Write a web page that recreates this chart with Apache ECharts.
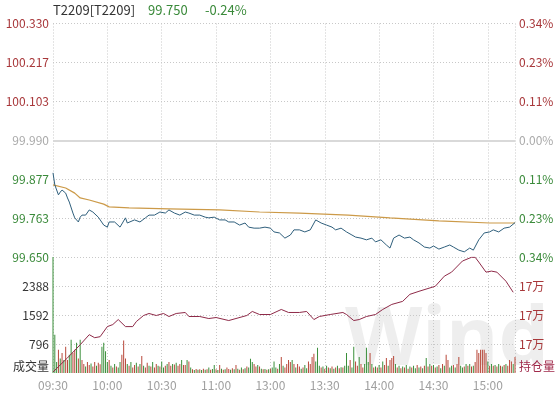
<!DOCTYPE html>
<html><head><meta charset="utf-8">
<script src="https://cdn.jsdelivr.net/npm/echarts@6/dist/echarts.min.js"></script>
<style>html,body{margin:0;padding:0;background:#fff}#c{width:559px;height:393px}</style>
</head><body><div id="c"></div>
<script>
// ---------------- data ----------------
const contractName = 'T2209[T2209]';
const lastPriceText = '99.750';
const changeText = '-0.24%';
const prevClose = 99.990;
const timeLabels = ['09:30','10:00','10:30','11:00','13:00','13:30','14:00','14:30','15:00'];
const priceTickLabels = ['99.650','99.763','99.877','99.990','100.103','100.217','100.330'];
const pctTickLabels = ['0.34%','0.23%','0.11%','0.00%','0.11%','0.23%','0.34%'];
const volTickLabels = ['成交量','796','1592','2388',''];
const oiTickLabels = ['持仓量','17万','17万','17万',''];

// price: minute index / price
const priceIdx = [0,1,3,4,5,7,8,9,11,12,14,15,16,18,20,22,25,28,30,31,34,37,40,41,45,48,51,53,56,59,62,64,67,70,73,75,78,81,84,86,89,92,95,97,100,103,106,108,111,114,117,120,122,125,128,131,133,136,139,142,145,148,151,154,156,159,162,165,167,170,173,176,178,181,184,186,188,191,194,197,199,202,205,208,210,213,216,219,221,224,227,230,232,235,238,241,243,246,249,252,255];
const priceVal = [99.895,99.860,99.831,99.839,99.845,99.836,99.822,99.810,99.778,99.764,99.752,99.766,99.772,99.772,99.787,99.781,99.766,99.743,99.737,99.752,99.752,99.737,99.764,99.749,99.758,99.752,99.764,99.772,99.772,99.781,99.778,99.787,99.778,99.772,99.781,99.778,99.772,99.772,99.766,99.764,99.766,99.758,99.758,99.752,99.752,99.743,99.749,99.737,99.734,99.734,99.737,99.734,99.723,99.720,99.705,99.714,99.729,99.729,99.723,99.729,99.758,99.749,99.743,99.737,99.729,99.734,99.723,99.714,99.708,99.705,99.700,99.705,99.694,99.700,99.685,99.676,99.705,99.714,99.705,99.708,99.700,99.691,99.679,99.676,99.682,99.673,99.679,99.685,99.679,99.670,99.665,99.676,99.670,99.700,99.720,99.723,99.729,99.723,99.734,99.737,99.750];

// average price
const avgIdx = [0,7,12,15,20,28,31,42,64,92,114,136,163,186,213,241,255];
const avgVal = [99.860,99.851,99.836,99.822,99.816,99.804,99.796,99.793,99.790,99.787,99.781,99.778,99.772,99.764,99.755,99.749,99.749];

// open interest (持仓量)
const oiIdx = [0,8,15,20,23,26,30,33,36,40,44,46,50,53,57,61,64,68,73,75,81,86,90,97,107,110,114,120,126,130,136,140,144,147,153,160,162,166,169,173,178,182,187,193,197,202,211,216,220,226,231,233,235,239,242,245,250,254];
const oiVal = [172035,172522,172974,173322,173217,173252,173600,173670,173843,173600,173600,173774,173983,174052,173983,174052,173948,174052,174087,173948,173948,173878,173913,173809,173983,174122,174017,174017,174191,174087,174087,174122,173843,173948,174017,174087,174017,173809,173843,173948,174017,174191,174365,174470,174713,174817,174991,175339,175478,175861,175990,175990,175826,175478,175513,175478,175165,174783];

// volume per minute
const volume = [3300,1050,300,640,400,550,360,720,360,500,
914,550,640,830,400,914,360,250,180,300,
220,260,180,300,200,280,240,720,830,600,
300,360,200,150,250,180,150,300,500,890,
400,250,200,300,150,220,280,180,250,470,
200,150,280,200,180,300,150,250,200,180,
313,150,200,250,300,200,250,230,280,200,
250,360,220,220,360,313,150,100,80,110,
90,100,80,120,90,100,150,90,110,220,
100,80,220,120,90,100,150,110,90,130,
100,220,120,90,150,100,130,180,150,390,
300,250,180,220,180,120,100,110,90,100,
120,150,313,150,120,250,440,200,150,250,
360,300,360,250,150,250,180,120,150,220,
130,313,250,440,530,313,690,200,150,180,
120,200,150,130,180,120,150,200,130,160,
150,200,550,200,360,150,720,313,200,440,
250,150,250,690,300,550,250,150,180,150,
220,150,313,220,415,200,360,415,470,250,
150,200,130,180,150,220,120,180,150,200,
130,220,150,180,130,200,415,180,250,200,
220,150,180,220,130,250,200,500,360,150,
200,220,150,250,440,200,150,180,250,200,
250,180,200,300,640,550,640,640,640,550,
313,200,250,200,220,180,250,200,180,220,
250,200,360,313,250,440];
// r = up (red), g = down (green)
const volDir = 'gggrgrgrrg'+'grrgrgrrgr'+'rgrrgrrggg'+'grgrgrggrr'+'rgrgrrgrgr'+'grrgrgrrgr'+'ggrgrrgrgr'+'rgrrgrgrgr'+'grgrgrgrgg'+'rgrgrgrrgr'+
'grgrgrgrgg'+'grrgrgrgrg'+'rgggrgrgrr'+'rrgrgrrgrg'+'grrrrgggrg'+'rgrgrgrgrg'+'rgggrggrrg'+'rrgggrgrgr'+'grgrrgrrrg'+'rgrgrgrgrg'+
'grgrgrgrgr'+'grgrgrgrrg'+'grgrrggrgr'+'grgrrrrrrr'+'grgrgrgrgr'+'grrrgr';

// ---------------- chart ----------------
const FONT = '"Noto Sans CJK SC", "Noto Sans", sans-serif';
const RED = '#a8373a', GREEN = '#3a8a3a', GRAY = '#aaaaaa';
const priceSeries = priceIdx.map((x, i) => [x, priceVal[i]]);
const avgSeries = avgIdx.map((x, i) => [x, avgVal[i]]);
const oiSeries = oiIdx.map((x, i) => [x, oiVal[i]]);
const volSeries = volume.map((v, i) => ({value: [i, v], itemStyle: {color: volDir[i] === 'r' ? '#b8483a' : '#3a8f3a'}}));

const gridSplit = {show: true, lineStyle: {color: '#c8c8c8', type: [1, 2], width: 1}};
const priceColor = (v, i) => i < 3 ? GREEN : (i === 3 ? GRAY : RED);

const chart = echarts.init(document.getElementById('c'), null, {renderer: 'canvas'});
chart.setOption({
  animation: false,
  backgroundColor: '#fff',
  textStyle: {fontFamily: FONT},
  graphic: [
    {type: 'text', left: 345, top: 302, z: -10, silent: true,
     style: {text: 'Wind', fill: 'rgba(0,0,0,0.065)', font: 'bold 80px "Noto Sans", sans-serif'}},
    {type: 'text', left: 53, top: 4, style: {text: contractName, fill: '#333', font: '13px ' + FONT}},
    {type: 'text', left: 148, top: 4, style: {text: lastPriceText, fill: GREEN, font: '13px ' + FONT}},
    {type: 'text', left: 205, top: 4, style: {text: changeText, fill: GREEN, font: '13px ' + FONT}}
  ],
  grid: [
    {left: 53, right: 44, top: 23.5, height: 233.5},
    {left: 53, right: 44, top: 257, height: 116}
  ],
  xAxis: [
    {type: 'value', gridIndex: 0, min: 0, max: 255, interval: 30,
     axisLine: {show: false}, axisTick: {show: false}, axisLabel: {show: false}, splitLine: gridSplit},
    {type: 'value', gridIndex: 1, min: 0, max: 255, interval: 30,
     axisLine: {show: false}, axisTick: {show: false}, splitLine: gridSplit,
     axisLabel: {show: true, showMaxLabel: false, color: '#a0a0a0', fontSize: 12, fontFamily: FONT, margin: 6,
       formatter: (v) => (v % 30 === 0 && timeLabels[v / 30]) ? timeLabels[v / 30] : ''}}
  ],
  yAxis: [
    {type: 'value', gridIndex: 0, position: 'left', min: 99.65, max: 100.33, interval: 0.68 / 6,
     axisLine: {show: false}, axisTick: {show: false}, splitLine: gridSplit,
     axisLabel: {color: priceColor, fontSize: 12, fontFamily: FONT, margin: 4,
       formatter: (v, i) => priceTickLabels[i] !== undefined ? priceTickLabels[i] : ''}},
    {type: 'value', gridIndex: 0, position: 'right', min: 99.65, max: 100.33, interval: 0.68 / 6,
     axisLine: {show: false}, axisTick: {show: false}, splitLine: {show: false},
     axisLabel: {color: priceColor, fontSize: 12, fontFamily: FONT, margin: 4,
       formatter: (v, i) => pctTickLabels[i] !== undefined ? pctTickLabels[i] : ''}},
    {type: 'value', gridIndex: 1, position: 'left', min: 0, max: 3184, interval: 796,
     axisLine: {show: false}, axisTick: {show: false},
     splitLine: {show: true, showMinLine: false, lineStyle: {color: '#c8c8c8', type: [1, 2]}},
     axisLabel: {showMaxLabel: false, color: '#333', fontSize: 12, fontFamily: FONT, margin: 4,
       formatter: (v, i) => i === 0 ? '{lo|' + volTickLabels[0] + '}' : (volTickLabels[i] || ''),
       rich: {lo: {fontSize: 12, color: '#333', fontFamily: FONT, padding: [0, 0, 14, 0]}}}},
    {type: 'value', gridIndex: 1, position: 'right', min: 172000, max: 176000, interval: 1000,
     axisLine: {show: false}, axisTick: {show: false}, splitLine: {show: false},
     axisLabel: {showMaxLabel: false, color: RED, fontSize: 12, fontFamily: FONT, margin: 4,
       formatter: (v, i) => i === 0 ? '{lo|' + oiTickLabels[0] + '}' : (oiTickLabels[i] || ''),
       rich: {lo: {fontSize: 12, color: '#a0294a', fontFamily: FONT, padding: [0, 0, 14, 0]}}}}
  ],
  series: [
    {type: 'line', name: 'avg', xAxisIndex: 0, yAxisIndex: 0, data: avgSeries, symbol: 'none',
     lineStyle: {color: '#cc9a48', width: 1.2}, z: 3,
     markLine: {silent: true, symbol: 'none', label: {show: false}, z: 1,
       lineStyle: {color: '#d9d9d9', type: 'solid', width: 2}, data: [{yAxis: prevClose}]}},
    {type: 'line', name: 'price', xAxisIndex: 0, yAxisIndex: 0, data: priceSeries, symbol: 'none',
     lineStyle: {color: '#2f5f7c', width: 1}, z: 4},
    {type: 'bar', name: 'vol', xAxisIndex: 1, yAxisIndex: 2, data: volSeries, barWidth: 1, z: 2},
    {type: 'line', name: 'oi', xAxisIndex: 1, yAxisIndex: 3, data: oiSeries, symbol: 'none',
     lineStyle: {color: '#8e2a48', width: 1}, z: 3}
  ]
});
</script></body></html>
